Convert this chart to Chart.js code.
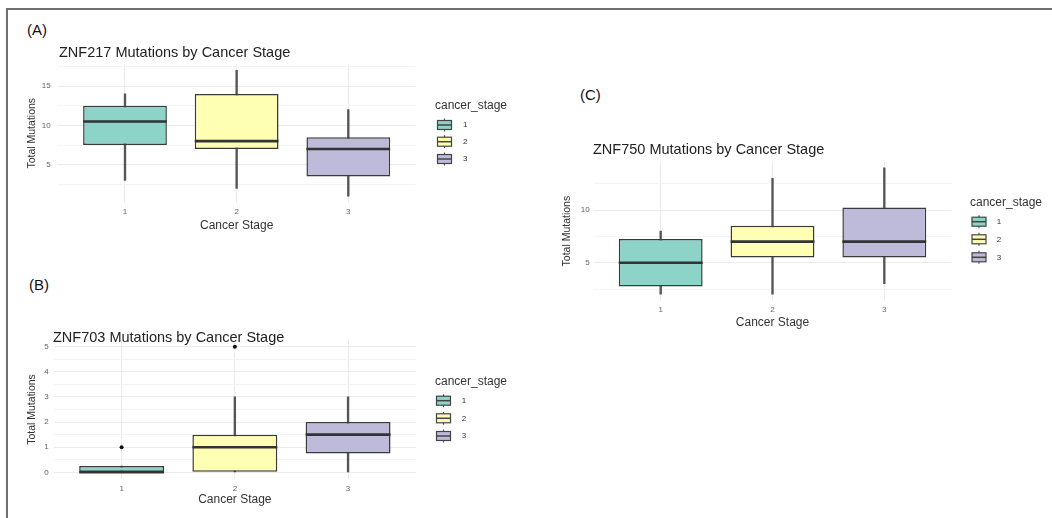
<!DOCTYPE html>
<html><head><meta charset="utf-8">
<script src="https://cdn.jsdelivr.net/npm/chart.js@4.4.0/dist/chart.umd.min.js"></script>
<style>
html,body{margin:0;padding:0;background:#fff;}
body{width:1052px;height:518px;position:relative;overflow:hidden;font-family:"Liberation Sans",Arial,sans-serif;}
#frame{position:absolute;left:6px;top:8px;width:1046px;height:510px;border-top:2px solid #707070;border-left:2px solid #707070;box-sizing:border-box;}
.lbl{position:absolute;font-size:15px;line-height:18px;color:#111;}
canvas{position:absolute;}
</style></head><body>
<div id="frame"></div>
<div class="lbl" style="left:27px;top:21px">(A)</div>
<div class="lbl" style="left:29px;top:276px">(B)</div>
<div class="lbl" style="left:580px;top:86px">(C)</div>
<canvas id="cA" width="530" height="206" style="left:8px;top:38px"></canvas>
<canvas id="cB" width="530" height="198" style="left:8px;top:318px"></canvas>
<canvas id="cC" width="507" height="200" style="left:545px;top:135px"></canvas>
<script>
// ---- data ----
const categories = [1, 2, 3];
const stageLabels = ['1', '2', '3'];
const stageColors = ['#8DD3C7', '#FFFFB3', '#BEBADA'];

// ZNF217
const a_min = [3, 2, 1];
const a_q1 = [7.5, 7, 3.5];
const a_med = [10.5, 8, 7];
const a_q3 = [12.5, 14, 8.5];
const a_max = [14, 17, 12];
const a_yMajor = [5, 10, 15];
const a_yMinor = [2.5, 7.5, 12.5, 17.5];

// ZNF703
const b_min = [0, 0, 0];
const b_q1 = [0, 0, 0.75];
const b_med = [0, 1, 1.5];
const b_q3 = [0.25, 1.5, 2];
const b_max = [0.25, 3, 3];
const b_outX = [1, 2];
const b_outY = [1, 5];
const b_yMajor = [0, 1, 2, 3, 4, 5];
const b_yMinor = [0.5, 1.5, 2.5, 3.5, 4.5];

// ZNF750
const c_min = [2, 2, 3];
const c_q1 = [2.75, 5.5, 5.5];
const c_med = [5, 7, 7];
const c_q3 = [7.25, 8.5, 10.25];
const c_max = [8, 13, 14];
const c_yMajor = [5, 10];
const c_yMinor = [2.5, 7.5, 12.5];

const FONT = '"Liberation Sans", Arial, sans-serif';

function makePanel(id, title, stats, outliers, yMin, yMax, yMajor, yMinor, g) {
  const cv = document.getElementById(id);
  const W = cv.width, H = cv.height;
  const yAxisW = g.area.l - g.canvas.l;
  const xTitleLH = 12 * 1.2;
  const xAxisH = g.xTitleOff + xTitleLH / 2 + 2;
  const padTop = g.area.t - g.canvas.t;
  const padRight = W - (g.area.r - g.canvas.l);
  const padBottom = H - (g.area.b - g.canvas.t) - xAxisH;
  const yTitleLH = 10.5 * 1.2;
  const yTitlePad = (g.yTitleX - g.canvas.l) - yTitleLH / 2;
  const yTicks = yMajor.concat(yMinor).sort((p, q) => p - q);

  const deco = {
    id: 'deco_' + id,
    afterDatasetsDraw(chart) {
      const ctx = chart.ctx;
      const ys = chart.scales.y;
      const meta = chart.getDatasetMeta(0);
      ctx.save();
      ctx.strokeStyle = '#333333';
      ctx.lineWidth = 2.6;
      meta.data.forEach((el, i) => {
        const y = ys.getPixelForValue(stats.med[i]);
        ctx.beginPath();
        ctx.moveTo(el.x - el.width / 2, y);
        ctx.lineTo(el.x + el.width / 2, y);
        ctx.stroke();
      });
      ctx.restore();
    },
    afterDraw(chart) {
      const ctx = chart.ctx;
      const ox = g.canvas.l, oy = g.canvas.t;
      ctx.save();
      ctx.fillStyle = '#222';
      ctx.font = '14.5px ' + FONT;
      ctx.textBaseline = 'middle';
      ctx.textAlign = 'left';
      ctx.fillText(title, g.titleX - ox, g.titleY - oy);
      ctx.font = '12px ' + FONT;
      ctx.fillStyle = '#333';
      ctx.fillText('cancer_stage', g.leg.x - ox, g.leg.titleY - oy);
      ctx.font = '8px ' + FONT;
      g.leg.keysY.forEach((ky, i) => {
        const cx = g.leg.keyX - ox, cy = ky - oy;
        ctx.strokeStyle = '#555';
        ctx.lineWidth = 1.2;
        ctx.beginPath();
        ctx.moveTo(cx, cy - 6.5); ctx.lineTo(cx, cy + 6.5); ctx.stroke();
        ctx.fillStyle = stageColors[i];
        ctx.fillRect(cx - 7, cy - 4.5, 14, 9);
        ctx.strokeStyle = '#444';
        ctx.strokeRect(cx - 7, cy - 4.5, 14, 9);
        ctx.lineWidth = 1.5;
        ctx.beginPath();
        ctx.moveTo(cx - 7, cy); ctx.lineTo(cx + 7, cy); ctx.stroke();
        ctx.fillStyle = '#333';
        ctx.fillText(stageLabels[i], g.leg.labelX - ox, cy);
      });
      ctx.restore();
    }
  };

  const outData = outliers.x.map((x, i) => ({ x: x, y: outliers.y[i] }));

  return new Chart(cv, {
    type: 'bar',
    data: {
      datasets: [
        {
          type: 'bar',
          data: categories.map((c, i) => ({ x: c, y: [stats.q1[i], stats.q3[i]] })),
          backgroundColor: stageColors,
          borderColor: '#3a3a3a',
          borderWidth: 1.5,
          borderSkipped: false,
          grouped: false,
          categoryPercentage: 0.75,
          barPercentage: 1
        },
        {
          type: 'bar',
          data: categories.map((c, i) => ({ x: c, y: [stats.min[i], stats.max[i]] })),
          backgroundColor: '#555555',
          borderWidth: 0,
          barThickness: 1.7,
          grouped: false
        },
        {
          type: 'scatter',
          data: outData,
          pointRadius: 2,
          pointBackgroundColor: '#111',
          pointBorderWidth: 0
        }
      ]
    },
    options: {
      responsive: false,
      animation: false,
      devicePixelRatio: 1,
      layout: { padding: { left: 0, top: padTop, right: padRight, bottom: padBottom } },
      plugins: { legend: { display: false }, tooltip: { enabled: false }, title: { display: false } },
      scales: {
        x: {
          type: 'linear',
          min: 0.4, max: 3.6,
          offset: false,
          afterBuildTicks: s => { s.ticks = categories.map(v => ({ value: v })); },
          afterFit: s => { s.height = xAxisH; },
          ticks: {
            callback: (v, i) => stageLabels[i],
            font: { size: 8, family: FONT },
            color: '#666',
            padding: g.xTickOff - 4.8,
            maxRotation: 0,
            autoSkip: false
          },
          grid: { color: '#ebebeb', lineWidth: 1, drawTicks: false, offset: false },
          border: { display: false },
          title: { display: true, text: 'Cancer Stage', font: { size: 12, family: FONT }, color: '#333', padding: { top: 0, bottom: 2 } }
        },
        y: {
          type: 'linear',
          min: yMin, max: yMax,
          afterBuildTicks: s => { s.ticks = yTicks.map(v => ({ value: v })); },
          afterFit: s => { s.width = yAxisW; },
          ticks: {
            callback: v => (yMajor.includes(v) ? String(v) : ''),
            font: { size: 8, family: FONT },
            color: '#666',
            padding: g.yTickPad,
            autoSkip: false
          },
          grid: {
            color: c => (c.tick && yMajor.includes(c.tick.value) ? '#ebebeb' : '#f4f4f4'),
            lineWidth: 1,
            drawTicks: false
          },
          border: { display: false },
          title: { display: true, text: 'Total Mutations', font: { size: 10.5, family: FONT }, color: '#333', padding: { top: yTitlePad, bottom: 0 } }
        }
      }
    },
    plugins: [deco]
  });
}

makePanel('cA', 'ZNF217 Mutations by Cancer Stage',
  { min: a_min, q1: a_q1, med: a_med, q3: a_q3, max: a_max },
  { x: [], y: [] }, 0.2, 17.8, a_yMajor, a_yMinor,
  { canvas: { l: 8, t: 38 }, area: { l: 58, r: 415.3, t: 64, b: 202.5 },
    yTitleX: 31.7, yTickPad: 7.3, xTickOff: 9.5, xTitleOff: 23.5,
    titleX: 59, titleY: 53,
    leg: { x: 435, titleY: 105.7, keysY: [125, 141.7, 159], keyX: 444.5, labelX: 463 } });

makePanel('cB', 'ZNF703 Mutations by Cancer Stage',
  { min: b_min, q1: b_q1, med: b_med, q3: b_q3, max: b_max },
  { x: b_outX, y: b_outY }, -0.25, 5.25, b_yMajor, b_yMinor,
  { canvas: { l: 8, t: 318 }, area: { l: 53.7, r: 416, t: 340.4, b: 478.6 },
    yTitleX: 31.7, yTickPad: 5, xTickOff: 9.7, xTitleOff: 21.4,
    titleX: 53, titleY: 337.5,
    leg: { x: 435, titleY: 381.7, keysY: [400.7, 418.3, 436], keyX: 443.5, labelX: 461.7 } });

makePanel('cC', 'ZNF750 Mutations by Cancer Stage',
  { min: c_min, q1: c_q1, med: c_med, q3: c_q3, max: c_max },
  { x: [], y: [] }, 1.4, 14.6, c_yMajor, c_yMinor,
  { canvas: { l: 545, t: 135 }, area: { l: 593.6, r: 951.4, t: 161.6, b: 300.6 },
    yTitleX: 566.7, yTickPad: 4, xTickOff: 9.4, xTitleOff: 22.1,
    titleX: 593, titleY: 150,
    leg: { x: 970, titleY: 203, keysY: [221.7, 239.3, 257.3], keyX: 979, labelX: 996.7 } });
</script>
</body></html>
